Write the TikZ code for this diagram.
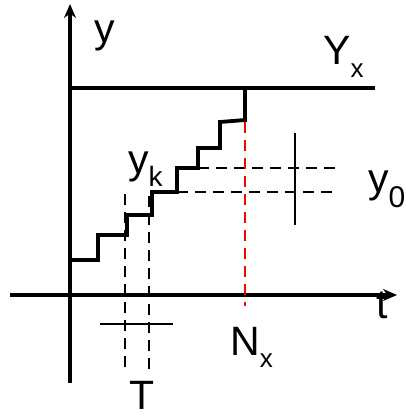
\documentclass[tikz,border=0pt]{standalone}
\usepackage{fontspec}
\setmainfont{Liberation Sans}
\usetikzlibrary{arrows.meta}

\newcommand{\lowsub}[3][-0.38em]{\raisebox{#1}{\fontsize{#2}{#2}\selectfont #3}}

\begin{document}
\begin{tikzpicture}[
    x=1pt, y=-1pt,
    axis/.style={line width=3.5pt, -{Stealth[length=14pt, width=12pt]}},
    stair/.style={line width=3.8pt, line join=miter},
    level/.style={line width=4.5pt},
    guide/.style={line width=2pt, dash pattern=on 11pt off 7pt},
    redguide/.style={guide, draw=red},
    thin/.style={line width=1.2pt},
    lbl/.style={font=\fontsize{41}{44}\selectfont, inner sep=0pt, anchor=base west},
]
\useasboundingbox (0,0) rectangle (405,419);

%% --- axes and level line ---
\coordinate (O) at (70,295);
\draw[axis] (70,383) -- (70,4);
\draw[axis] (10,295) -- (397,295);
\draw[level] (68,88) coordinate (ytop) -- (375,88) coordinate (yend);

%% --- guide lines (under the steps) ---
\draw[guide] (177,192) -- (335,192);
\draw[guide] (198,168) -- (335,168);
\draw[redguide] (245,122) -- (245,306);
\draw[guide] (125,194) -- (125,368);
\draw[guide] (149,196) -- (149,373);
\draw[thin] (295,133) -- (295,225);
\draw[thin] (100,324) -- (173,324);

%% --- staircase ---
\draw[stair] (72,260) -- (98,260) -- (98,235) -- (127,235) -- (127,215)
    -- (152,215) -- (152,192) -- (177,192) -- (177,168) -- (198,168)
    -- (198,148) -- (220,148) -- (220,122) -- (245,120) -- (245,88);

%% --- labels ---
\node[lbl] (ylab)  at (94,43)   {y};
\node[lbl] (Yx)    at (323,65)  {Y\lowsub[-0.3em]{26}{x}};
\node[lbl] (yk)    at (128,174) {y\lowsub[-0.3em]{28}{k}};
\node[lbl] (y0)    at (368,193) {y\lowsub[-0.35em]{30}{0}};
\node[lbl] (tlab)  at (376,318) {t};
\node[lbl] (Nx)    at (230,355) {N\lowsub[-0.3em]{26}{x}};
\node[lbl] (Tlab)  at (129,409) {T};

\end{tikzpicture}
\end{document}
